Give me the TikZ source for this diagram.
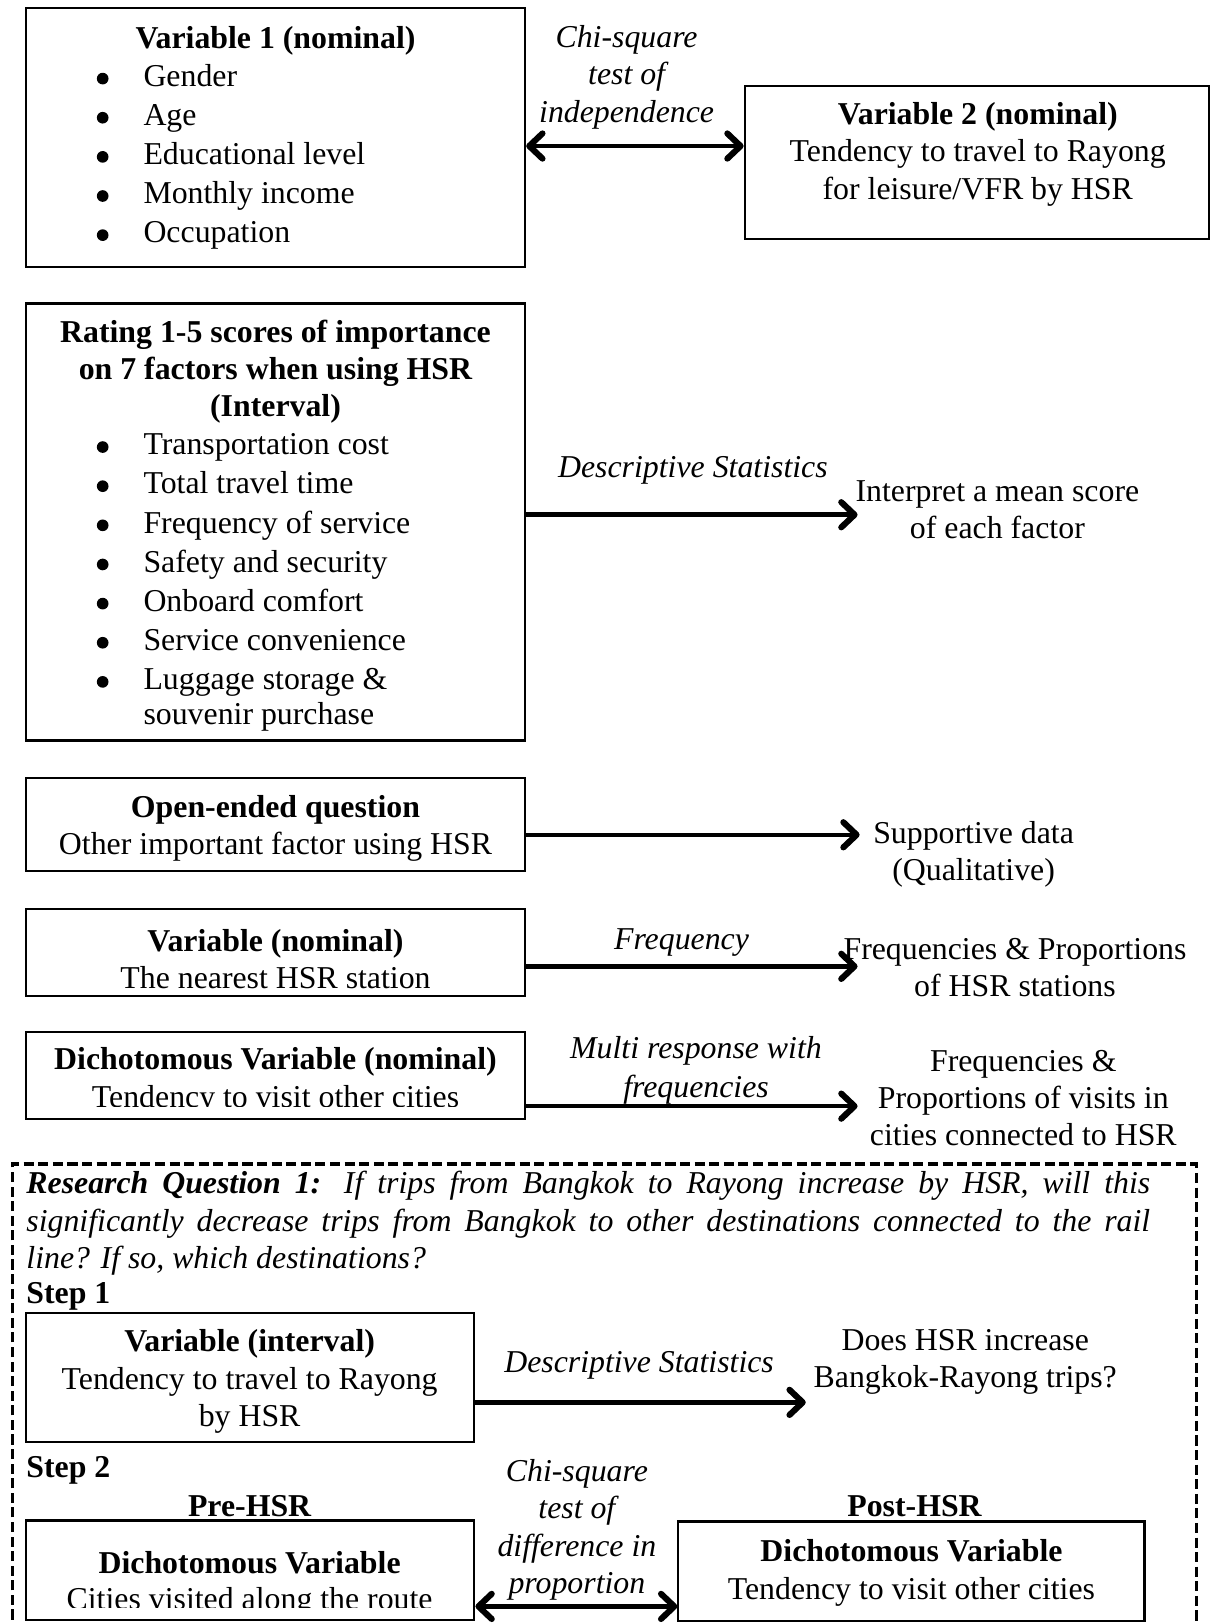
\documentclass[tikz,border=0pt]{standalone}
\usepackage{fontspec}
\setmainfont{Liberation Serif}
\usetikzlibrary{arrows.meta,fit}
% list bullet: a filled dot in front of each item
\newcommand{\bl}{\makebox[17.6pt][l]{\hspace{0pt}\tikz[baseline=0pt,x=1pt,y=1pt]\fill (2.2,2.9) circle[radius=2.2];}}
\begin{document}
\begin{tikzpicture}[x=0.3906pt,y=-0.3906pt,
  box/.style={draw, line width=0.8pt, inner sep=0pt},
  txt/.style={inner sep=0pt, align=center, font=\fontsize{12}{14.06}\selectfont},
  lst/.style={inner sep=0pt, align=left, anchor=west, font=\fontsize{12}{14.76}\selectfont},
  lbl/.style={txt, font=\fontsize{12}{14.06}\selectfont\itshape},
  arr/.style={line width=1.7pt, -{Straight Barb[length=5pt,width=9.5pt,line width=2.3pt,round]}},
  dbl/.style={line width=1.7pt, {Straight Barb[length=5pt,width=9.5pt,line width=2.3pt,round]}-{Straight Barb[length=5pt,width=9.5pt,line width=2.3pt,round]}},
  dashbox/.style={draw, line width=1.3pt, dash pattern=on 3.8pt off 1.7pt},
]
\useasboundingbox (0,0) rectangle (1169,1568);

% ---- boxes
\node[box, fit={(25,8) (507,258)}] (b1) {};
\node[box, fit={(719,83) (1167,231)}] (b2) {};
\node[box, fit={(25,293) (507,715)}] (b3) {};
\node[box, fit={(25,751) (507,841)}] (b4) {};
\node[box, fit={(25,878) (507,962)}] (b5) {};
\node[box, fit={(25,996) (507,1080)}] (b6) {};
\node[box, fit={(25,1268) (458,1392)}] (b7) {};
\node[box, fit={(25,1468) (458,1564)}] (b8) {};
\node[box, fit={(655,1469) (1105,1565)}] (b9) {};
\draw[dashbox] (12,1620) -- (12,1124) -- (1155,1124) -- (1155,1620);

% ---- nominal variables and chi-square test
\node[txt, font=\fontsize{12}{14.06}\selectfont\bfseries] (t1) at (266,39) {Variable 1 (nominal)};
\node[lst] (t1l) at (93,151.5) {\bl Gender\\\bl Age\\\bl Educational level\\\bl Monthly income\\\bl Occupation};
\node[txt] (t2) at (944,149) {\textbf{Variable 2 (nominal)}\\Tendency to travel to Rayong\\for leisure/VFR by HSR};
\node[lbl] (l1) at (605,74.5) {Chi-square\\test of\\independence};
\coordinate (y1) at (0,141);
\draw[dbl] (b1.east |- y1) -- (b2.west |- y1);

% ---- importance ratings
\node[txt, font=\fontsize{12}{14.06}\selectfont\bfseries] (t3) at (266,359) {Rating 1-5 scores of importance\\on 7 factors when using HSR\\(Interval)};
\node[lst] (t3l) at (93,562.5) {\bl Transportation cost\\\bl Total travel time\\\bl Frequency of service\\\bl Safety and security\\\bl Onboard comfort\\\bl Service convenience\\\bl Luggage storage \&\\[-1.5pt]\hspace*{17.6pt}souvenir purchase};
\node[lbl] (l3) at (669,454) {Descriptive Statistics};
\node[txt] (o3) at (963,492) {Interpret a mean score\\of each factor};
\coordinate (e3) at (828,497);
\draw[arr] (b3.east |- e3) -- (e3);

% ---- open-ended question
\node[txt] (t4) at (266,799.5) {\textbf{Open-ended question}\\Other important factor using HSR};
\node[txt] (o4) at (940,825) {Supportive data\\(Qualitative)};
\coordinate (e4) at (830,806);
\draw[arr] (b4.east |- e4) -- (e4);

% ---- nearest station
\node[txt] (t5) at (266,926) {\textbf{Variable (nominal)}\\The nearest HSR station};
\node[lbl] (l5) at (658,910) {Frequency};
\node[txt] (o5) at (980,934) {Frequencies \& Proportions\\of HSR stations};
\coordinate (e5) at (828,933);
\draw[arr] (b5.east |- e5) -- (e5);

% ---- other cities
\begin{scope}
\clip (25,996) rectangle (507,1068);
\node[txt] (t6) at (266,1043.5) {\textbf{Dichotomous Variable (nominal)}\\[0.4pt]Tendency to visit other cities};
\end{scope}
\node[lbl] (l6) at (672,1033.5) {Multi response with\\[0.4pt]frequencies};
\node[txt] (o6) at (988,1060) {Frequencies \&\\Proportions of visits in\\cities connected to HSR};
\coordinate (e6) at (828,1068);
\draw[arr] (b6.east |- e6) -- (e6);

% ---- research question 1
\node[inner sep=0pt, anchor=west, text width=423.8pt, align=justify, font=\fontsize{12}{14.06}\selectfont\itshape] (rq) at (25,1181)
  {\textbf{Research Question 1:} If trips from Bangkok to Rayong increase by HSR, will this\linebreak significantly decrease trips from Bangkok to other destinations connected to the rail\linebreak line? If so, which destinations?};
\node[txt, anchor=west, font=\fontsize{12}{14.06}\selectfont\bfseries] (s1) at (25,1252) {Step 1};
\node[txt] (t7) at (241,1334) {\textbf{Variable (interval)}\\Tendency to travel to Rayong\\by HSR};
\node[lbl] (l7) at (617,1318) {Descriptive Statistics};
\node[txt] (o7) at (932,1315) {Does HSR increase\\Bangkok-Rayong trips?};
\coordinate (e7) at (778,1354);
\draw[arr] (b7.east |- e7) -- (e7);

\node[txt, anchor=west, font=\fontsize{12}{14.06}\selectfont\bfseries] (s2) at (25,1420) {Step 2};
\node[txt, font=\fontsize{12}{14.06}\selectfont\bfseries] (pre) at (241,1454) {Pre-HSR};
\node[txt, font=\fontsize{12}{14.06}\selectfont\bfseries] (post) at (883,1454) {Post-HSR};
\begin{scope}
\clip (25,1468) rectangle (458,1552);
\node[txt] (t8) at (241,1529.5) {\textbf{Dichotomous Variable}\\[-0.3pt]Cities visited along the route};
\end{scope}
\node[txt] (t9) at (880,1518.5) {\textbf{Dichotomous Variable}\\[0.4pt]Tendency to visit other cities};
\node[lbl] (l9) at (557,1477) {Chi-square\\test of\\difference in\\proportion};
\coordinate (y9) at (0,1551);
\draw[dbl] (b8.east |- y9) -- (b9.west |- y9);
\end{tikzpicture}
\end{document}
